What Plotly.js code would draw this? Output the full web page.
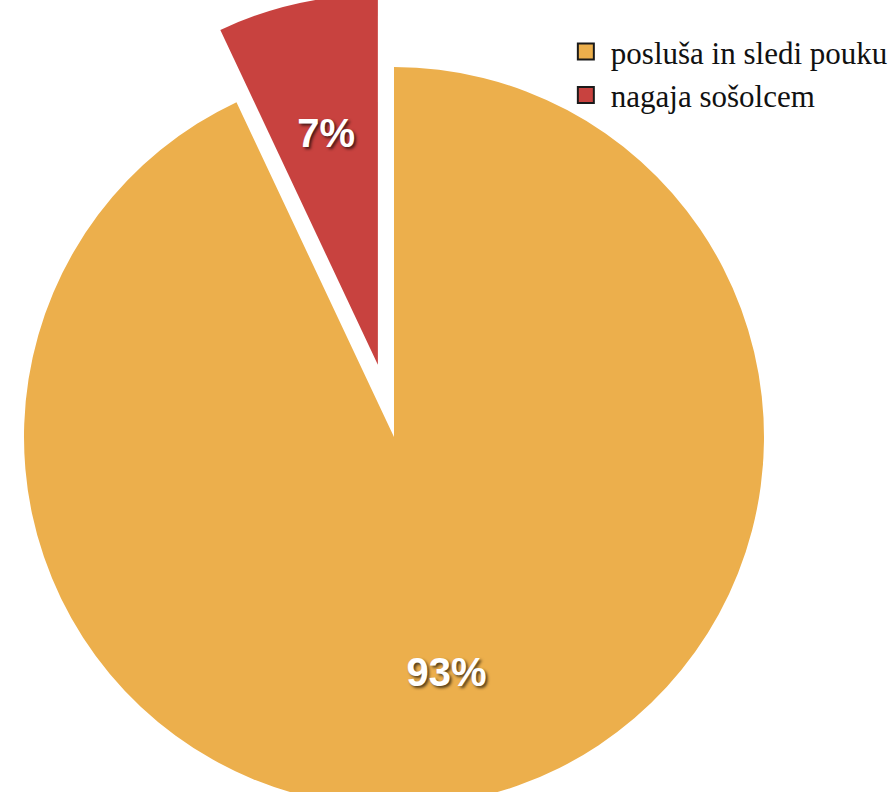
<!DOCTYPE html>
<html><head><meta charset="utf-8">
<script src="https://cdn.plot.ly/plotly-3.0.1.min.js"></script>
<style>
html,body{margin:0;padding:0;overflow:hidden;background:#fff;width:896px;height:792px}
#chart{position:absolute;left:-50px;top:-7px;width:950px;height:888px}
</style>
</head><body><div id="chart"></div>
<script>
const categories = ['posluša in sledi pouku', 'nagaja sošolcem'];
const values = [93, 7];

const sliceColors = ['#ECAF4C', '#C8423F'];

const pie = {
  type: 'pie',
  labels: categories,
  values: values,
  sort: false,
  direction: 'clockwise',
  rotation: 0,
  pull: [0, 0.2],
  marker: {colors: sliceColors, line: {width: 0}},
  textinfo: 'none',
  showlegend: false,
  hoverinfo: 'none',
  domain: {x: [0, 888/950], y: [0, 1]}
};

// same slices, transparent and concentric, used only to place the percentage labels
const pieLabels = {
  type: 'pie',
  labels: categories,
  values: values,
  sort: false,
  direction: 'clockwise',
  rotation: 0,
  hole: 0.272,
  marker: {colors: ['rgba(0,0,0,0)', 'rgba(0,0,0,0)'], line: {width: 0}},
  texttemplate: '%{percent}',
  textposition: 'inside',
  insidetextorientation: 'horizontal',
  textfont: {family: 'Liberation Sans, Arial, sans-serif', size: 40, color: '#ffffff', weight: 'bold',
             shadow: '2px 2px 3px rgba(0,0,0,0.65)'},
  showlegend: false,
  hoverinfo: 'none',
  domain: {x: [65/950, 823/950], y: [65/888, 823/888]}
};

const legendTraces = categories.map((c, i) => ({
  type: 'scatter', x: [null], y: [null], mode: 'markers', name: c,
  legendgroup: 'g' + i,
  marker: {symbol: 'square', size: 16, color: sliceColors[i], line: {color: '#1a1a1a', width: 2}},
  hoverinfo: 'none'
}));

const layout = {
  width: 950, height: 888,
  margin: {l: 0, r: 0, t: 0, b: 0, autoexpand: false},
  paper_bgcolor: '#ffffff', plot_bgcolor: '#ffffff',
  xaxis: {visible: false}, yaxis: {visible: false},
  showlegend: true,
  legend: {x: 0.643, y: 0.964, xanchor: 'left', yanchor: 'top', itemwidth: 40,
           font: {family: 'Liberation Serif, Times New Roman, serif', size: 31, color: '#111'},
           tracegroupgap: 0, bgcolor: 'rgba(0,0,0,0)', itemclick: false, itemdoubleclick: false}
};

Plotly.newPlot('chart', [pie, pieLabels, ...legendTraces], layout, {staticPlot: true, displayModeBar: false});
</script>
</body></html>
